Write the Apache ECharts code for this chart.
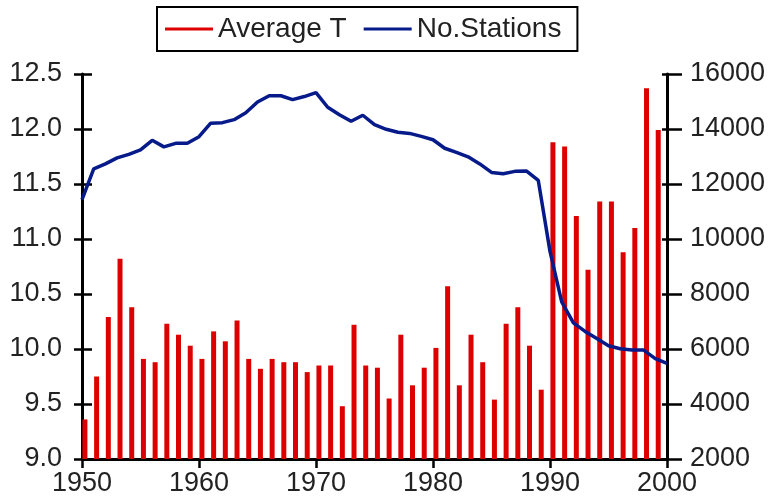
<!DOCTYPE html>
<html>
<head>
<meta charset="utf-8">
<script src="https://cdn.jsdelivr.net/npm/echarts@6/dist/echarts.min.js"></script>
<style>
html,body{margin:0;padding:0;background:#fff;}
#chart{width:770px;height:503px;}
</style>
</head>
<body>
<div id="chart"></div>
<script>
// ---- data ----
const barYears = [1950,1951,1952,1953,1954,1955,1956,1957,1958,1959,
  1960,1961,1962,1963,1964,1965,1966,1967,1968,1969,
  1970,1971,1972,1973,1974,1975,1976,1977,1978,1979,
  1980,1981,1982,1983,1984,1985,1986,1987,1988,1989,
  1990,1991,1992,1993,1994,1995,1996,1997,1998,1999];
const averageT = [9.36,9.75,10.29,10.82,10.38,9.91,9.88,10.23,10.13,10.03,
  9.91,10.16,10.07,10.26,9.91,9.82,9.91,9.88,9.88,9.79,
  9.85,9.85,9.48,10.22,9.85,9.83,9.55,10.13,9.67,9.83,
  10.01,10.57,9.67,10.13,9.88,9.54,10.23,10.38,10.03,9.63,
  11.88,11.84,11.21,10.72,11.34,11.34,10.88,11.10,12.37,11.99];
const lineYears = [1950,1951,1952,1953,1954,1955,1956,1957,1958,1959,
  1960,1961,1962,1963,1964,1965,1966,1967,1968,1969,
  1970,1971,1972,1973,1974,1975,1976,1977,1978,1979,
  1980,1981,1982,1983,1984,1985,1986,1987,1988,1989,
  1990,1991,1992,1993,1994,1995,1996,1997,1998,1999,2000];
const noStations = [11435,12550,12730,12950,13080,13240,13590,13350,13480,13480,
  13720,14210,14230,14340,14590,14980,15210,15210,15070,15180,
  15320,14790,14520,14280,14500,14160,13990,13880,13840,13730,
  13610,13300,13150,12990,12730,12420,12370,12460,12470,12130,
  9550,7710,6950,6640,6380,6120,6010,5960,5960,5650,5480];
const xTicks = {min:1950, max:2000, interval:10};
const leftTicks = {min:9.0, max:12.5, interval:0.5};
const rightTicks = {min:2000, max:16000, interval:2000};
const seriesNames = ['Average T','No.Stations'];

// ---- chart ----
const BAR_OFFSET = 0.25; // bars drawn just to the right of each year mark
const FONT = "'Liberation Sans', Arial, sans-serif";
const chart = echarts.init(document.getElementById('chart'), null, {renderer:'canvas'});

function yAxisBase(pos, t) {
  return {type:'value', position:pos, min:t.min, max:t.max, interval:t.interval,
    splitLine:{show:false}};
}

const option = {
  animation:false,
  backgroundColor:'#fff',
  textStyle:{fontFamily:FONT},
  legend:{
    left:157, top:7,
    padding:[8,16,8,8],
    borderColor:'#000', borderWidth:2,
    itemWidth:48, itemHeight:3, itemGap:17,
    textStyle:{fontSize:28, color:'#222', fontFamily:FONT},
    data:[{name:seriesNames[0], icon:'rect'},{name:seriesNames[1], icon:'rect'}]
  },
  grid:{left:82, right:103, top:74, bottom:44, containLabel:false},
  xAxis:{
    type:'value', min:xTicks.min, max:xTicks.max, interval:xTicks.interval,
    splitLine:{show:false},
    axisLine:{show:true, onZero:false, lineStyle:{color:'#000', width:3}},
    axisTick:{show:true, inside:false, length:9, lineStyle:{color:'#000', width:2.5}},
    axisLabel:{fontSize:27, color:'#222', margin:11, fontFamily:FONT,
      formatter:v => String(v)}
  },
  yAxis:[
    Object.assign(yAxisBase('left', leftTicks), {
      axisLine:{show:true, lineStyle:{color:'#000', width:3}},
      axisTick:{show:true, inside:false, length:8, lineStyle:{color:'#000', width:2.5}},
      axisLabel:{fontSize:27, color:'#222', margin:20, fontFamily:FONT,
        formatter:v => v.toFixed(1)}
    }),
    Object.assign(yAxisBase('right', rightTicks), {
      axisLine:{show:true, lineStyle:{color:'#000', width:3}},
      axisTick:{show:true, inside:false, length:15, lineStyle:{color:'#000', width:2.5}},
      axisLabel:{fontSize:27, color:'#222', margin:23, fontFamily:FONT,
        formatter:v => String(v)}
    }),
    Object.assign(yAxisBase('left', leftTicks), {
      axisLine:{show:false},
      axisTick:{show:true, inside:true, length:10, lineStyle:{color:'#000', width:2.5}},
      axisLabel:{show:false}
    }),
    Object.assign(yAxisBase('right', rightTicks), {
      axisLine:{show:false},
      axisTick:{show:true, inside:true, length:5, lineStyle:{color:'#000', width:2.5}},
      axisLabel:{show:false}
    })
  ],
  series:[
    {
      name:seriesNames[0], type:'bar', xAxisIndex:0, yAxisIndex:0,
      barWidth:5,
      itemStyle:{color:'#dd0000'},
      data:barYears.map((y,i) => [y + BAR_OFFSET, averageT[i]]),
      z:2
    },
    {
      name:seriesNames[1], type:'line', xAxisIndex:0, yAxisIndex:1,
      symbol:'none', smooth:false,
      lineStyle:{color:'#061a8a', width:3.5},
      itemStyle:{color:'#061a8a'},
      data:lineYears.map((y,i) => [y, noStations[i]]),
      z:3
    }
  ]
};
chart.setOption(option);
</script>
</body>
</html>
